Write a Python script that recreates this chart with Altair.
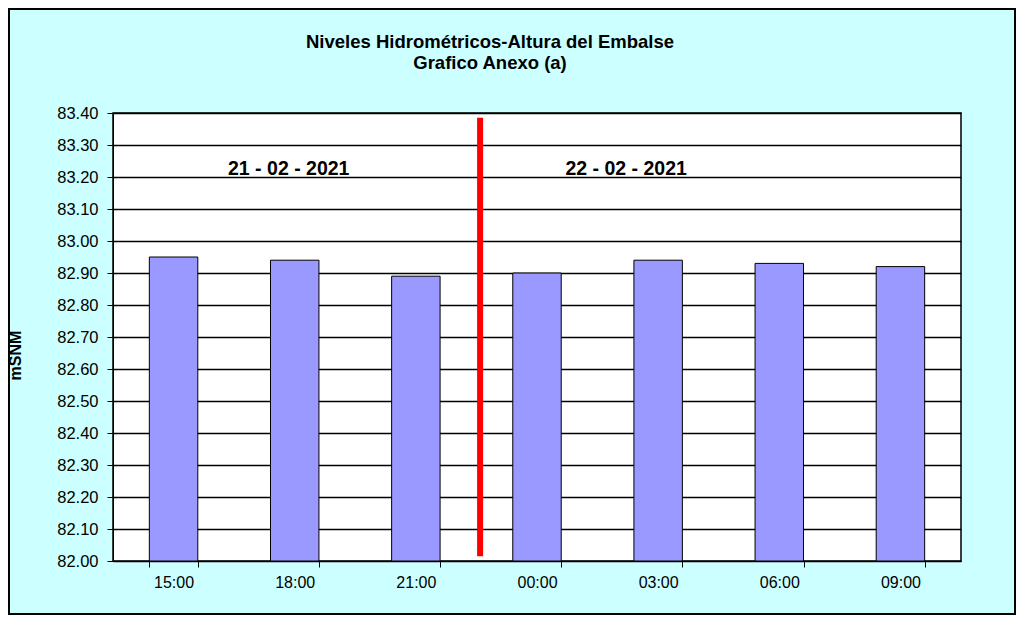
import altair as alt
import pandas as pd

# Data
hours = ["15:00", "18:00", "21:00", "00:00", "03:00", "06:00", "09:00"]
levels = [82.95, 82.94, 82.89, 82.90, 82.94, 82.93, 82.92]

date_labels = ["21 - 02 - 2021", "22 - 02 - 2021"]
date_anchor = ["18:00", "03:00"]
date_level = [83.20, 83.20]

divider_after = "21:00"
divider_top = 83.385
divider_bottom = 82.015

y_ticks = [round(82.0 + 0.1 * i, 2) for i in range(15)]

df = pd.DataFrame({"hora": hours, "nivel": levels})

FONT = "Liberation Sans"
W, H = 848, 448
PAD = {"left": 105, "top": 105, "right": 55, "bottom": 54}

x_scale = alt.Scale(domain=hours, paddingInner=0.6, paddingOuter=0.3)
x_axis = alt.Axis(
    title=None,
    labelAngle=0,
    tickBand="extent",
    labelFont=FONT,
    labelFontSize=16,
    labelColor="black",
    labelPadding=7,
    tickColor="black",
    tickSize=6,
    domainColor="black",
    grid=False,
)

y_scale = alt.Scale(domain=[82.0, 83.4], nice=False, zero=False)
y_axis = alt.Axis(
    title="mSNM",
    values=y_ticks,
    format=".2f",
    labelOverlap=False,
    labelFont=FONT,
    labelFontSize=16.5,
    labelColor="black",
    labelPadding=9,
    tickColor="black",
    tickSize=6,
    domainColor="black",
    gridColor="black",
    gridWidth=1.3,
    titleFont=FONT,
    titleFontSize=16,
    titleFontWeight="bold",
    titleColor="black",
    titleX=-98,
    titleY=242,
    titleAngle=270,
    titleAlign="center",
    titleBaseline="middle",
)


def X(**kw):
    return alt.X("hora:N", scale=x_scale, axis=x_axis, **kw)


def Y():
    return alt.Y("nivel:Q", scale=y_scale, axis=y_axis)


bars = alt.Chart(df).mark_bar(
    fill="#9999FF", stroke="black", strokeWidth=1
).encode(
    x=X(),
    y=Y(),
    y2=alt.datum(82.0),
)

divider_df = pd.DataFrame({"hora": [divider_after], "nivel": [divider_top], "nivel2": [divider_bottom]})
divider = alt.Chart(divider_df).mark_rule(
    color="#FF0000", strokeWidth=6, xOffset=40
).encode(
    x=X(bandPosition=1),
    y=Y(),
    y2="nivel2:Q",
)

dates1 = alt.Chart(pd.DataFrame({"label": [date_labels[0]], "hora": [date_anchor[0]], "nivel": [date_level[0]]})).mark_text(
    font=FONT, fontSize=19.5, fontWeight="bold", color="black", baseline="alphabetic", dy=-2, dx=-6
).encode(x=X(), y=Y(), text="label:N")

dates2 = alt.Chart(pd.DataFrame({"label": [date_labels[1]], "hora": [date_anchor[1]], "nivel": [date_level[1]]})).mark_text(
    font=FONT, fontSize=19.5, fontWeight="bold", color="black", baseline="alphabetic", dy=-2, dx=-32
).encode(x=X(), y=Y(), text="label:N")

frame = alt.Chart(pd.DataFrame({"a": [0]})).mark_rect(
    fill="transparent", stroke="black", strokeWidth=2
).encode(
    x=alt.value(-PAD["left"] + 1),
    x2=alt.value(W + PAD["right"] - 1),
    y=alt.value(-PAD["top"] + 1),
    y2=alt.value(H + PAD["bottom"] - 1),
)

chart = alt.layer(bars, divider, dates1, dates2, frame).properties(
    width=W,
    height=H,
    padding=PAD,
    autosize=alt.AutoSizeParams(type="none"),
    background="#CCFFFF",
    title=alt.TitleParams(
        text=["Niveles Hidrométricos-Altura del Embalse", "Grafico Anexo (a)"],
        font=FONT,
        fontSize=18.5,
        fontWeight="bold",
        color="black",
        anchor="middle",
        dx=-47,
        offset=0,
        dy=64,
        lineHeight=21,
    ),
).configure_view(fill="white", stroke="black", strokeWidth=1.5)

chart.save("out.html", embed_options={"renderer": "svg", "actions": False})
